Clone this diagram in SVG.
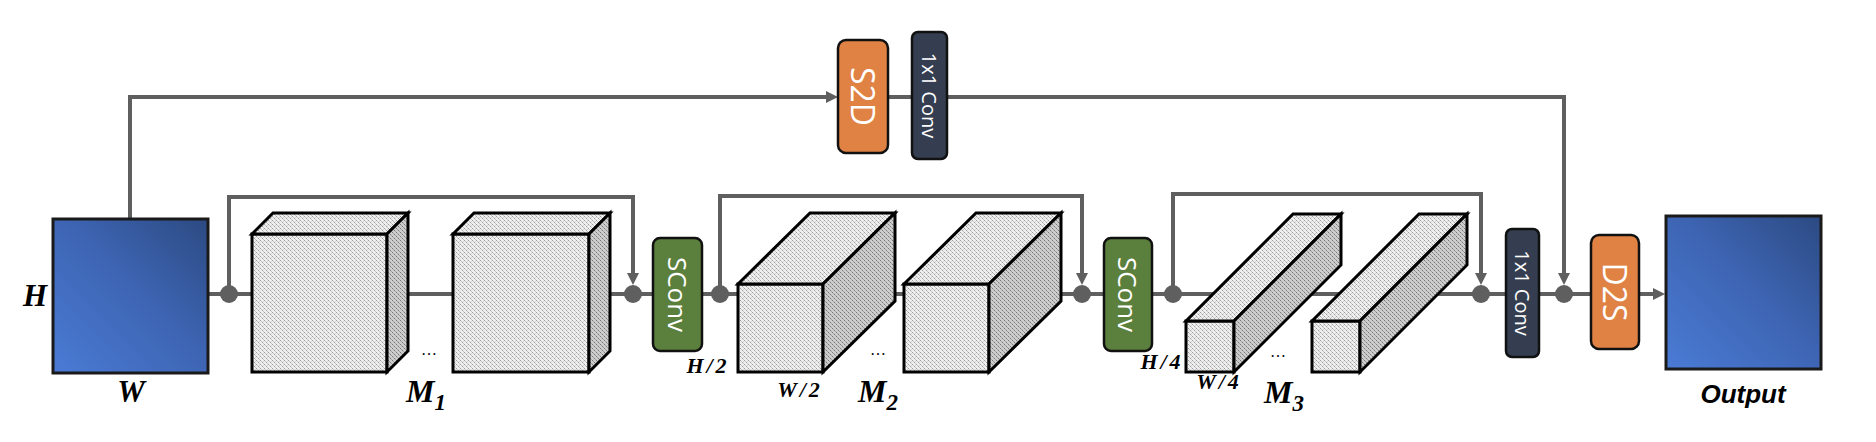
<svg xmlns="http://www.w3.org/2000/svg" width="1876" height="442" viewBox="0 0 1876 442">
<style>
.ln{fill:none;stroke:#5f5f5f;stroke-width:4;stroke-linejoin:miter}
.dot{fill:#5f5f5f}
.cube{stroke:#000;stroke-width:3;stroke-linejoin:miter}
.front{fill:url(#hatch)}
.side{fill:url(#hatchDark)}
.feat{fill:url(#blueGrad);stroke:#1a1a1a;stroke-width:3}
.op{stroke:#111;stroke-width:2.5}
.orange{fill:#e08244}
.navy{fill:#343e50}
.green{fill:#5b7f3d}
.boxtxt{font-family:"Open Sans","Noto Sans",sans-serif;fill:#ffffff;text-anchor:middle;dominant-baseline:central}
.math{font-family:"Liberation Serif","Times New Roman",serif;font-weight:bold;font-style:italic;fill:#000;text-anchor:middle}
.frac{font-size:22px;letter-spacing:3px}
.dots{font-family:"Liberation Serif",serif;font-size:16px;fill:#000;text-anchor:middle}
.outlbl{font-family:"Liberation Sans",Arial,sans-serif;font-weight:bold;font-style:italic;font-size:26px;fill:#000;text-anchor:middle}
</style>
<defs>
<linearGradient id="blueGrad" x1="0" y1="1" x2="1" y2="0">
<stop offset="0" stop-color="#4a7bd5"/>
<stop offset="0.55" stop-color="#3d64b2"/>
<stop offset="1" stop-color="#2c4a82"/>
</linearGradient>
<pattern id="hatch" width="4" height="4" patternUnits="userSpaceOnUse">
<rect width="4" height="4" fill="#efefef"/>
<rect x="0" y="0" width="1" height="1" fill="#9e9e9e"/>
<rect x="2" y="2" width="1" height="1" fill="#9e9e9e"/>
<rect x="1" y="1" width="1" height="1" fill="#c6c6c6"/>
<rect x="3" y="3" width="1" height="1" fill="#c6c6c6"/>
<rect x="3" y="1" width="1" height="1" fill="#d2d2d2"/>
</pattern>
<pattern id="hatchDark" width="4" height="4" patternUnits="userSpaceOnUse">
<rect width="4" height="4" fill="#cdcdcd"/>
<rect x="0" y="0" width="1" height="1" fill="#7a7a7a"/>
<rect x="2" y="2" width="1" height="1" fill="#7a7a7a"/>
<rect x="1" y="1" width="1" height="1" fill="#a0a0a0"/>
<rect x="3" y="3" width="1" height="1" fill="#a0a0a0"/>
</pattern>
<marker id="arr" viewBox="0 0 12 12" refX="8" refY="6" markerWidth="12" markerHeight="12" markerUnits="userSpaceOnUse" orient="auto">
<path d="M0,0 L12,6 L0,12 z" fill="#5f5f5f"/>
</marker>
</defs>
<rect width="1876" height="442" fill="#ffffff"/>

<g id="connectors">
<path class="ln" d="M130,219 V97 H834" marker-end="url(#arr)"/>
<path class="ln" d="M888,97 H912"/>
<path class="ln" d="M947,97 H1564 V281" marker-end="url(#arr)"/>
<path class="ln" d="M208,294 H653"/>
<path class="ln" d="M229,294 V197 H633 V281" marker-end="url(#arr)"/>
<path class="ln" d="M702,294 H1104"/>
<path class="ln" d="M720,294 V196 H1082 V281" marker-end="url(#arr)"/>
<path class="ln" d="M1152,294 H1506"/>
<path class="ln" d="M1173,294 V194 H1481 V281" marker-end="url(#arr)"/>
<path class="ln" d="M1539,294 H1591"/>
<path class="ln" d="M1639,294 H1661" marker-end="url(#arr)"/>
<circle class="dot" cx="229" cy="294" r="9"/>
<circle class="dot" cx="633" cy="294" r="9"/>
<circle class="dot" cx="720" cy="294" r="9"/>
<circle class="dot" cx="1082" cy="294" r="9"/>
<circle class="dot" cx="1173" cy="294" r="9"/>
<circle class="dot" cx="1481" cy="294" r="9"/>
<circle class="dot" cx="1564" cy="294" r="9"/>
</g>

<g id="input">
<rect class="feat" x="53" y="219" width="155" height="154"/>
<text class="math" x="35" y="306" font-size="31">H</text>
<text class="math" x="131" y="402" font-size="31">W</text>
</g>

<g id="m1-block1" class="cube">
<rect class="front" x="252" y="234" width="135" height="138"/>
<polygon class="front" points="252,234 273,213 408,213 387,234"/>
<polygon class="side" points="387,234 408,213 408,351 387,372"/>
</g>
<g id="m1-block2" class="cube">
<rect class="front" x="453" y="234" width="136" height="138"/>
<polygon class="front" points="453,234 474,213 610,213 589,234"/>
<polygon class="side" points="589,234 610,213 610,351 589,372"/>
</g>
<g id="m1-label">
<text class="dots" x="429" y="355">…</text>
<text class="math" x="426" y="402" font-size="32">M<tspan font-size="23" dy="8">1</tspan></text>
</g>

<g id="sconv1">
<rect class="green op" x="653" y="238" width="49" height="113" rx="7"/>
<text class="boxtxt" font-size="26" transform="translate(677.5,294.5) rotate(90)">SConv</text>
</g>

<g id="m2-block1" class="cube">
<rect class="front" x="738" y="284" width="85" height="88"/>
<polygon class="front" points="738,284 810,213 895,213 823,284"/>
<polygon class="side" points="823,284 895,213 895,301 823,372"/>
</g>
<g id="m2-block2" class="cube">
<rect class="front" x="904" y="284" width="85" height="88"/>
<polygon class="front" points="904,284 976,213 1061,213 989,284"/>
<polygon class="side" points="989,284 1061,213 1061,301 989,372"/>
</g>
<g id="m2-label">
<text class="math frac" x="708" y="373">H/2</text>
<text class="math frac" x="800" y="397">W/2</text>
<text class="dots" x="878" y="355">…</text>
<text class="math" x="878" y="402" font-size="32">M<tspan font-size="23" dy="8">2</tspan></text>
</g>

<g id="sconv2">
<rect class="green op" x="1104" y="238" width="48" height="113" rx="7"/>
<text class="boxtxt" font-size="26" transform="translate(1128,294.5) rotate(90)">SConv</text>
</g>

<g id="m3-block1" class="cube">
<rect class="front" x="1186" y="321" width="48" height="51"/>
<polygon class="front" points="1186,321 1293,214 1341,214 1234,321"/>
<polygon class="side" points="1234,321 1341,214 1341,265 1234,372"/>
</g>
<g id="m3-block2" class="cube">
<rect class="front" x="1312" y="321" width="48" height="51"/>
<polygon class="front" points="1312,321 1419,214 1467,214 1360,321"/>
<polygon class="side" points="1360,321 1467,214 1467,265 1360,372"/>
</g>
<g id="m3-label">
<text class="math frac" x="1162" y="369">H/4</text>
<text class="math frac" x="1219" y="389">W/4</text>
<text class="dots" x="1278" y="357">…</text>
<text class="math" x="1284" y="403" font-size="32">M<tspan font-size="23" dy="8">3</tspan></text>
</g>

<g id="s2d">
<rect class="orange op" x="838" y="40" width="50" height="113" rx="8"/>
<text class="boxtxt" font-size="32" transform="translate(863,96.5) rotate(90)">S2D</text>
</g>

<g id="conv1x1-top">
<rect class="navy op" x="912" y="32" width="35" height="127" rx="6"/>
<text class="boxtxt" font-size="20" transform="translate(929.5,95.5) rotate(90)">1x1 Conv</text>
</g>

<g id="conv1x1-bottom">
<rect class="navy op" x="1506" y="229" width="33" height="128" rx="6"/>
<text class="boxtxt" font-size="20" transform="translate(1522.5,293) rotate(90)">1x1 Conv</text>
</g>

<g id="d2s">
<rect class="orange op" x="1591" y="235" width="48" height="114" rx="8"/>
<text class="boxtxt" font-size="32" transform="translate(1615,292) rotate(90)">D2S</text>
</g>

<g id="output">
<rect class="feat" x="1666" y="216" width="155" height="153"/>
<text class="outlbl" x="1743" y="403">Output</text>
</g>
</svg>
